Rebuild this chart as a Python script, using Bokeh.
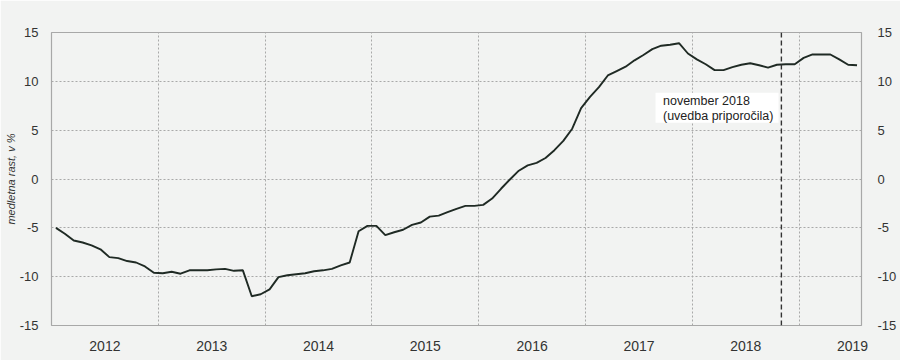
from bokeh.plotting import figure
from bokeh.models import Range1d, LinearAxis, FixedTicker, Span, BoxAnnotation, Label, Title
from bokeh.embed import file_html
from bokeh.resources import INLINE

# Monthly growth, Jan 2012 .. Jul 2019 (annual growth, %)
start_year = 2012
growth = [
    -5.0, -5.6, -6.3, -6.5, -6.8, -7.2, -8.0, -8.1, -8.4, -8.55, -8.95, -9.6,
    -9.65, -9.5, -9.7, -9.35, -9.35, -9.35, -9.25, -9.2, -9.4, -9.35, -12.0, -11.8,
    -11.3, -10.05, -9.85, -9.75, -9.65, -9.45, -9.35, -9.2, -8.85, -8.55, -5.35, -4.8,
    -4.8, -5.75, -5.45, -5.2, -4.7, -4.45, -3.85, -3.75, -3.4, -3.05, -2.75, -2.75,
    -2.65, -2.0, -1.0, -0.05, 0.85, 1.4, 1.65, 2.15, 2.95, 3.9, 5.15, 7.25,
    8.4, 9.4, 10.6, 11.05, 11.5, 12.15, 12.7, 13.3, 13.65, 13.75, 13.9, 12.85,
    12.25, 11.75, 11.15, 11.15, 11.45, 11.7, 11.85, 11.65, 11.4, 11.7, 11.75, 11.75,
    12.4, 12.75, 12.75, 12.75, 12.25, 11.7, 11.65,
]
year_labels = ["2012", "2013", "2014", "2015", "2016", "2017", "2018", "2019"]
y_ticks = [-15, -10, -5, 0, 5, 10, 15]
y_tick_labels = ["-15", "-10", "-5", "0", "5", "10", "15"]
y_label = "medletna rast, v %"
note_text = "november 2018\n(uvedba priporočila)"
note_month_index = 82  # November 2018 (months since Jan 2012)

n_months = len(growth)
x = [i + 0.5 for i in range(n_months)]

BG = "#f2f3f2"
TXT = "#333333"
FONT = "Liberation Sans"

p = figure(width=900, height=360, output_backend="svg", toolbar_location=None,
           x_range=Range1d(0, n_months), y_range=Range1d(-15, 15),
           min_border_left=51, min_border_right=39, min_border_top=32, min_border_bottom=35,
           background_fill_color=BG, border_fill_color=BG,
           outline_line_color="#a8a8a8", outline_line_width=1.2)

# grid
p.xgrid.ticker = FixedTicker(ticks=[12 * k for k in range(1, len(year_labels))])
p.ygrid.ticker = FixedTicker(ticks=y_ticks[1:-1])
for g in (p.xgrid[0], p.ygrid[0]):
    g.grid_line_color = "#a9a9a9"
    g.grid_line_dash = "2 2"
    g.grid_line_width = 1

# x axis
xa = p.xaxis[0]
year_centers = [12 * k + 6 for k in range(len(year_labels))]
xa.ticker = FixedTicker(ticks=year_centers)
xa.major_label_overrides = {c: lab for c, lab in zip(year_centers, year_labels)}
xa.major_tick_line_color = None
xa.minor_tick_line_color = None
xa.axis_line_color = None
xa.major_label_standoff = 9
xa.major_label_text_font = FONT
xa.major_label_text_font_size = "14px"
xa.major_label_text_color = TXT

def style_y(ax):
    ax.ticker = FixedTicker(ticks=y_ticks)
    ax.major_label_overrides = {t: s for t, s in zip(y_ticks, y_tick_labels)}
    ax.major_tick_line_color = None
    ax.minor_tick_line_color = None
    ax.axis_line_color = None
    ax.major_label_text_font = FONT
    ax.major_label_text_font_size = "13px"
    ax.major_label_text_color = TXT

ya = p.yaxis[0]
style_y(ya)
ya.major_label_standoff = 7

yr = LinearAxis()
style_y(yr)
yr.major_label_standoff = 10
p.add_layout(yr, "right")

# y-axis title in the left margin
p.add_layout(Title(text=y_label, align="center", text_font=FONT, text_font_style="italic",
                   text_font_size="11px", text_color=TXT, standoff=0, offset=0), "left")

# data line
p.line(x, growth, line_color="#1f2a24", line_width=1.9)

# recommendation marker
p.add_layout(Span(location=note_month_index, dimension="height", line_color="#333333",
                  line_width=1.4, line_dash="5 3"))
p.add_layout(BoxAnnotation(left=67.86, right=81.68, top=8.84, bottom=5.75,
                           fill_color="white", fill_alpha=1.0, line_color=None))
p.add_layout(Label(x=68.7, y=8.75, text=note_text, text_baseline="top", text_align="left",
                   text_font=FONT, text_font_size="12.5px",
                   text_color="#222222", text_line_height=1.12))

open("out.html", "w").write(file_html(p, INLINE))
